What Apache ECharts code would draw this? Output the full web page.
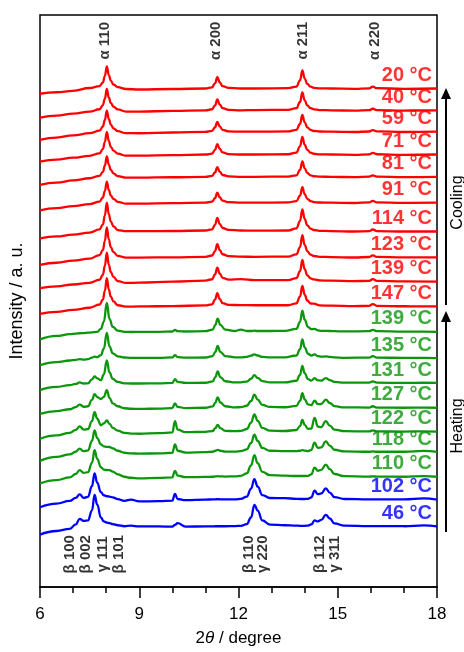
<!DOCTYPE html>
<html>
<head>
<meta charset="utf-8">
<script src="https://cdn.jsdelivr.net/npm/echarts@6/dist/echarts.min.js"></script>
<style>
html,body{margin:0;padding:0;background:#fff;}
#chart{width:464px;height:652px;}
</style>
</head>
<body>
<div id="chart"></div>
<script>
// 2θ grid for the cooling (red) patterns
var xCooling = [6.0, 6.5, 7.0, 7.5, 7.8, 7.9, 7.96, 8.02, 8.08, 8.14, 8.22, 8.35, 8.6, 9.0, 10.0, 11.0, 11.2, 11.29, 11.36, 11.43, 11.52, 11.7, 12.07, 12.5, 13.5, 13.75, 13.86, 13.93, 14.0, 14.08, 14.18, 14.28, 14.45, 14.8, 15.5, 15.95, 16.06, 16.18, 17.0, 18.0];
// 2θ grid for the heating (green / blue) patterns
var xHeating = [6.0, 6.5, 6.9, 7.08, 7.2, 7.32, 7.45, 7.57, 7.65, 7.73, 7.84, 7.93, 8.02, 8.1, 8.2, 8.35, 8.55, 8.75, 9.0, 9.6, 10.0, 10.08, 10.16, 10.4, 11.0, 11.22, 11.3, 11.37, 11.45, 11.6, 11.9, 12.07, 12.25, 12.38, 12.48, 12.58, 12.72, 12.95, 13.4, 13.75, 13.86, 13.93, 14.0, 14.1, 14.2, 14.3, 14.4, 14.5, 14.64, 14.76, 14.9, 15.2, 15.95, 16.06, 16.18, 17.0, 17.6, 18.0];

// intensity above each pattern's own baseline (a. u.)
var c20  = [-5.3, -3.8, -2.4, 0.5, 2.4, 6.0, 12.5, 22.3, 13.5, 8, 4.0, 1.3, -0.5, -1.0, -0.5, 0, 1.2, 5.2, 11.5, 6.3, 2.3, 0.6, 0, 0, 0.3, 1.8, 8.2, 18.3, 10, 4.6, 1.8, 0.7, 0.2, 0, -0.3, 0.2, 1.8, 0.3, -0.3, 0];
var c40  = [-7.3, -5.3, -3.3, -1.3, 1.1, 5.2, 11.8, 21.5, 12.9, 7.5, 3.8, 0.9, -1.2, -1.2, -0.6, 0, 1.1, 5.0, 11, 6.0, 2.2, 0.5, 0, 0.3, 0.5, 2.2, 8.4, 18, 10.1, 4.9, 2.2, 1.0, 0.3, 0, -0.3, 0.2, 1.6, 0.3, -0.2, 0];
var c59  = [-8.2, -5.9, -3.7, -1.5, 1.0, 5.2, 11.8, 21.3, 12.8, 7.2, 3.4, 0.5, -1.5, -1.6, -0.8, -0.2, 0.8, 4.4, 9.8, 5.4, 1.8, 0.3, 0, 0, 0.3, 1.9, 7.8, 16.8, 9.4, 4.4, 1.8, 0.7, 0.2, 0, -0.3, 0.2, 1.6, 0.3, -0.3, 0];
var c71  = [-7.2, -5.2, -3.2, -1.3, 1.2, 5.5, 12.5, 22.8, 13.7, 7.8, 4.0, 0.9, -1.2, -1.2, -0.6, 0, 1.0, 4.7, 10.5, 5.8, 2.1, 0.5, 0, 0, 0.3, 2.0, 8.3, 17.8, 9.9, 4.6, 1.9, 0.8, 0.2, 0, -0.3, 0.2, 1.6, 0.3, -0.3, 0];
var c81  = [-8, -5.8, -3.6, -1.4, 1.0, 5.0, 11.3, 20.5, 12.3, 7.0, 3.6, 0.8, -0.8, -0.8, -0.4, 0, 1.0, 4.4, 9.7, 5.3, 1.9, 0.5, 0, 0, 0.3, 1.6, 7.1, 15.7, 8.6, 3.9, 1.6, 0.6, 0.2, 0, -0.3, 0.2, 1.5, 0.3, -0.3, 0];
var c91  = [-7.7, -5.5, -3.5, -1.4, 1.1, 5.2, 11.7, 21.3, 12.8, 7.4, 3.8, 0.9, -1.0, -1.0, -0.5, 0, 1.0, 4.5, 10, 5.5, 2.0, 0.5, 0, 0, 0.3, 1.6, 7.1, 15.7, 8.6, 3.9, 1.6, 0.6, 0.2, 0, -0.3, 0.3, 1.8, 0.3, -0.2, 0];
var c114 = [-7, -5, -3.1, -1.2, 2.1, 7.0, 16, 29, 17.4, 10.0, 5.2, 1.4, 0.3, 0.3, 0.5, 1.0, 2.2, 6.6, 13.7, 7.7, 3.5, 1.6, 1.0, 0.8, 1.0, 3.2, 10.5, 22.3, 12.6, 6.2, 2.9, 1.5, 0.7, 0.4, 0, 0.3, 2.0, 0.4, 0, 0];
var c123 = [-7.7, -5.5, -3.4, -1.3, 2.2, 7.2, 16.5, 30, 18, 10.3, 5.3, 1.4, -0.3, -0.3, 0, 0.5, 1.8, 6.2, 13.3, 7.4, 3.1, 1.1, 0.6, 0.5, 0.7, 2.9, 10.3, 22.3, 12.5, 6.0, 2.7, 1.3, 0.5, 0.2, -0.2, 0.3, 2.0, 0.4, 0, 0];
var c139 = [-6.5, -4.7, -2.9, -1.2, 1.9, 6.8, 15.8, 29.2, 17.2, 9.7, 4.7, 0.6, -1.3, -1.0, 0, 1.0, 2.4, 7.2, 14.2, 8.2, 3.8, 2.0, 2.6, 1.6, 1.5, 3.5, 10.6, 21.8, 12.6, 6.4, 3.3, 2.2, 1.2, 1.0, 0.5, 0.8, 2.5, 0.8, 0.3, 0];
var c147 = [-7.5, -5.4, -3.4, -1.3, 2.0, 6.9, 15.7, 28.5, 17.1, 9.9, 5.1, 1.2, -0.2, 0, 0.4, 1.0, 2.2, 6.8, 13.5, 7.6, 3.4, 1.5, 1.4, 1.2, 1.2, 3.2, 10.0, 20.8, 11.8, 6.0, 3.0, 2.8, 1.0, 0.8, 0.3, 0.6, 2.4, 0.6, 0.2, 0];

var h139 = [-7.7, -4.2, -2.3, -1.9, -1.5, -1.3, -0.9, -0.6, -0.3, 0, 2.9, 10.2, 29, 13, 4.9, 1.2, 0, -0.2, 0, 0, 0.3, 1.8, 0.6, 0.3, 0.6, 2.2, 6.9, 13.3, 6.9, 2.2, 0.8, 2.2, 0.8, 0.8, 1.2, 0.8, 0.8, 0.8, 1.0, 3.0, 10.0, 21.3, 12.2, 5.0, 2.6, 3.0, 1.5, 1.0, 1.0, 0.8, 0.6, 0.4, 0.6, 2.0, 0.6, 0.2, 0.2, 0];
var h135 = [-7.2, -4.0, -2.4, -1.8, -1.0, -1.6, -1.0, 0.4, 1.5, 1.0, 3.0, 9.5, 25.5, 11.8, 4.8, 1.8, 0.6, 0.2, 0.2, 0.3, 0.7, 3.0, 1.0, 0.5, 0.6, 2.0, 6.3, 12.2, 6.3, 2.0, 0.8, 0.8, 1.2, 2.4, 3.8, 2.6, 1.2, 0.8, 0.8, 2.6, 9.0, 18.8, 10.8, 4.4, 2.6, 3.8, 2.0, 1.4, 1.8, 1.3, 0.7, 0.3, 0.5, 2.0, 0.5, 0.2, 0.2, 0];
var h131 = [-7.2, -4.0, -2.2, -1.0, 0.5, -0.6, -0.4, 3.6, 6.5, 4.6, 2.8, 8.5, 22.8, 10.5, 4.0, 1.0, -0.4, -0.6, -0.6, -0.4, 0, 3.8, 1.0, 0, 0.2, 1.5, 5.8, 11.5, 5.8, 1.7, 0.5, 0.6, 1.4, 4.2, 7.8, 5.0, 1.8, 0.6, 0.5, 2.2, 8.0, 17.2, 9.8, 3.8, 2.4, 4.8, 2.6, 2.4, 4.8, 2.8, 1.0, 0.3, 0.3, 1.5, 0.3, 0, 0.2, 0];
var h127 = [-6.2, -3.4, -1.5, 0.6, 3.2, 1.0, 1.5, 8.0, 13.8, 10.8, 8.8, 11.0, 17.8, 10.0, 4.5, 1.5, -0.5, -1.0, -1.2, -0.8, -0.3, 4.5, 0.8, -0.3, 0, 1.3, 5.2, 10.5, 5.3, 1.5, 0.4, 0.6, 2.0, 6.8, 13.2, 8.2, 2.9, 0.8, 0.5, 1.9, 6.9, 14.8, 8.4, 3.4, 2.6, 7.2, 3.6, 3.8, 8.2, 4.8, 1.6, 0.4, 0.2, 1.5, 0.2, 0, 0.2, 0];
var h122 = [-7.2, -3.8, -1.2, 1.8, 5.2, 2.0, 2.6, 10.5, 19.5, 13.0, 6.4, 8.2, 11.2, 7.8, 3.8, 1.0, -1.2, -2.0, -2.2, -1.6, -0.8, 10.5, 2.0, -0.6, -0.2, 0.6, 3.4, 6.8, 3.5, 0.8, 0.4, 0.8, 2.6, 9.0, 17.2, 10.8, 3.8, 1.0, 0.6, 1.6, 5.6, 11.8, 6.7, 2.8, 3.0, 13.8, 5.0, 4.5, 10.5, 6.0, 2.0, 0.4, 0.2, 1.2, 0.2, 0, 0.3, 0];
var h118 = [-9.0, -5.0, -2.4, 0.2, 3.3, 0.8, 1.5, 11.0, 21.7, 14.0, 7.6, 5.6, 5.2, 5.0, 3.6, 1.2, -0.8, -1.4, -1.7, -1.4, -0.8, 7.7, 1.2, -0.6, -0.2, 0.2, 1.2, 2.0, 1.2, 0.3, 0.3, 0.8, 2.6, 9.0, 17.3, 11.0, 4.0, 1.2, 0.8, 0.8, 1.2, 1.8, 1.4, 0.8, 2.0, 9.3, 4.0, 4.6, 10.7, 6.4, 2.2, 0.6, 0.2, 0.6, 0.2, 0.2, 1.0, 0];
var h110 = [-6.7, -3.4, -0.6, 2.8, 6.7, 4.0, 4.6, 14.0, 26.7, 18.0, 9.6, 7.2, 6.8, 6.7, 5.2, 2.4, 0, -1.0, -1.7, -1.2, -0.6, 6.0, 1.2, -0.4, -0.2, 0, 0.4, 0.6, 0.4, 0.2, 0.4, 1.0, 3.4, 11.5, 21.7, 13.6, 5.0, 1.6, 1.2, 0.8, 0.8, 0.8, 0.8, 1.0, 2.4, 9.3, 6.0, 7.0, 12.3, 7.6, 2.8, 0.6, 0.2, 0.3, 0.2, 0, 0.6, 0];
var h102 = [-7.7, -4.0, -1.3, 1.8, 5.3, 1.8, 2.8, 13.5, 26.3, 17.0, 7.6, 4.4, 3.4, 3.0, 2.2, 0.4, -1.2, 0, -1.8, -1.6, -1.0, 5.7, 0.6, -0.5, 0, 0.2, 0.3, 0.4, 0.3, 0.2, 0.3, 0.8, 3.0, 11.0, 20.7, 13.0, 4.6, 1.6, 1.4, 0.8, 0.6, 0.6, 0.6, 0.8, 2.2, 9.0, 5.5, 6.2, 11.3, 7.0, 2.6, 0.6, 0.2, 0.3, 0.2, 0.2, 1.2, 0];
var h46  = [-8.3, -4.6, -2.4, 2.0, 7.7, 5.5, 6.0, 16.0, 31.7, 22.0, 9.0, 5.0, 3.8, 3.3, 2.4, 1.2, 0.2, 0.8, 0, 0, -0.3, 1.5, 3.3, -0.2, 0, 0, 0.2, 0.2, 0.2, 0.2, 0.3, 0.6, 2.4, 9.0, 21.7, 16.0, 6.0, 1.8, 1.2, 0.8, 0.6, 0.6, 0.6, 0.8, 2.0, 6.0, 5.0, 6.5, 11.7, 8.0, 3.0, 0.8, 0.3, 0.4, 0.3, 0.2, 1.0, 0];

// stacking offsets of the patterns, top to bottom
var offsets = [502, 480, 458.5, 435.5, 413, 387, 358, 332, 307.5, 282.5, 257, 230.5, 205.5, 180.5, 156.5, 136, 111, 88, 61];
var temps = ['20 °C', '40 °C', '59 °C', '71 °C', '81 °C', '91 °C', '114 °C', '123 °C', '139 °C', '147 °C',
             '139 °C', '135 °C', '131 °C', '127 °C', '122 °C', '118 °C', '110 °C', '102 °C', '46 °C'];
var profiles = [c20, c40, c59, c71, c81, c91, c114, c123, c139, c147, h139, h135, h131, h127, h122, h118, h110, h102, h46];
var modes = ['c','c','c','c','c','c','c','c','c','c','h','h','h','h','h','h','h','b','b'];

// reflection labels
var topLabels = ['α 110', 'α 200', 'α 211', 'α 220'];
var topLabelX = [7.97, 11.32, 13.96, 16.13];
var bottomLabels = ['β 100', 'β 002', 'γ 111', 'β 101', 'β 110', 'γ 220', 'β 112', 'γ 311'];
var bottomLabelX = [6.91, 7.39, 7.90, 8.37, 12.30, 12.75, 14.46, 14.92];

var RED = '#ff0000', GREEN = '#0c960c', BLUE = '#0000ff';
var FONT = 'Liberation Sans';

var chart = echarts.init(document.getElementById('chart'));

function colorOf(m) {
    return m === 'c' ? RED : (m === 'h' ? GREEN : BLUE);
}

var series = [];
profiles.forEach(function (p, i) {
    var xs = modes[i] === 'c' ? xCooling : xHeating;
    series.push({
        name: temps[i],
        type: 'line',
        data: xs.map(function (x, j) { return [x, offsets[i] + p[j]]; }),
        showSymbol: false,
        smooth: 0.45,
        smoothMonotone: 'x',
        lineStyle: { color: colorOf(modes[i]), width: 2.3 },
        silent: true,
        z: 3
    });
});

// temperature labels at the right end of each pattern
series.push({
    type: 'scatter',
    symbolSize: 0,
    silent: true,
    data: offsets.map(function (o, i) {
        return { value: [18, o + 13], label: { color: colorOf(modes[i]) } };
    }),
    label: {
        show: true,
        position: 'left',
        distance: 5,
        fontFamily: FONT,
        fontWeight: 'bold',
        fontSize: 20,
        formatter: function (p) { return temps[p.dataIndex]; }
    },
    z: 5
});

// hkl labels
function hklSeries(xs, texts, yCenter) {
    return {
        type: 'scatter',
        symbolSize: 0,
        silent: true,
        data: xs.map(function (x) { return [x, yCenter]; }),
        label: {
            show: true,
            position: 'inside',
            rotate: 90,
            color: '#000',
            fontFamily: FONT,
            fontWeight: 'bold',
            fontSize: 15,
            formatter: function (p) { return texts[p.dataIndex]; }
        },
        z: 5
    };
}
series.push(hklSeries(topLabelX, topLabels, 550));
series.push(hklSeries(bottomLabelX, bottomLabels, 33));

var option = {
    animation: false,
    grid: {
        left: 40, right: 27, top: 15, bottom: 61,
        show: true, borderColor: '#000', borderWidth: 1.5, backgroundColor: 'transparent'
    },
    xAxis: {
        type: 'value',
        min: 6, max: 18, interval: 3,
        name: '2{i|θ} / degree',
        nameLocation: 'middle',
        nameGap: 43,
        nameTextStyle: {
            color: '#000', fontFamily: FONT, fontSize: 17,
            rich: { i: { fontStyle: 'italic', fontFamily: FONT, fontSize: 17, color: '#000' } }
        },
        axisLine: { lineStyle: { color: '#000', width: 1.5 } },
        axisTick: { inside: false, length: 11, lineStyle: { color: '#000', width: 1.5 } },
        minorTick: { show: true, splitNumber: 3, length: 6, lineStyle: { color: '#000', width: 1.5 } },
        axisLabel: { color: '#000', fontFamily: FONT, fontSize: 17, margin: 19 },
        splitLine: { show: false }
    },
    yAxis: {
        type: 'value',
        min: 0, max: 576,
        name: 'Intensity / a. u.',
        nameLocation: 'middle',
        nameGap: 14,
        nameTextStyle: { color: '#000', fontFamily: FONT, fontSize: 18 },
        axisLine: { show: false },
        axisTick: { show: false },
        axisLabel: { show: false },
        splitLine: { show: false }
    },
    graphic: [
        // cooling arrow
        { type: 'line', shape: { x1: 446, y1: 97, x2: 446, y2: 305 }, style: { stroke: '#000', lineWidth: 2 } },
        { type: 'polygon', shape: { points: [[446, 88], [441, 99], [451, 99]] }, style: { fill: '#000' } },
        { type: 'text', x: 457.5, y: 202.5, rotation: Math.PI / 2,
          style: { text: 'Cooling', font: '16px "Liberation Sans"', fill: '#000', align: 'center', verticalAlign: 'middle' } },
        // heating arrow
        { type: 'line', shape: { x1: 446, y1: 320, x2: 446, y2: 532 }, style: { stroke: '#000', lineWidth: 2 } },
        { type: 'polygon', shape: { points: [[446, 311], [441, 322], [451, 322]] }, style: { fill: '#000' } },
        { type: 'text', x: 457.5, y: 426, rotation: Math.PI / 2,
          style: { text: 'Heating', font: '16px "Liberation Sans"', fill: '#000', align: 'center', verticalAlign: 'middle' } }
    ],
    series: series
};
chart.setOption(option);
</script>
</body>
</html>
